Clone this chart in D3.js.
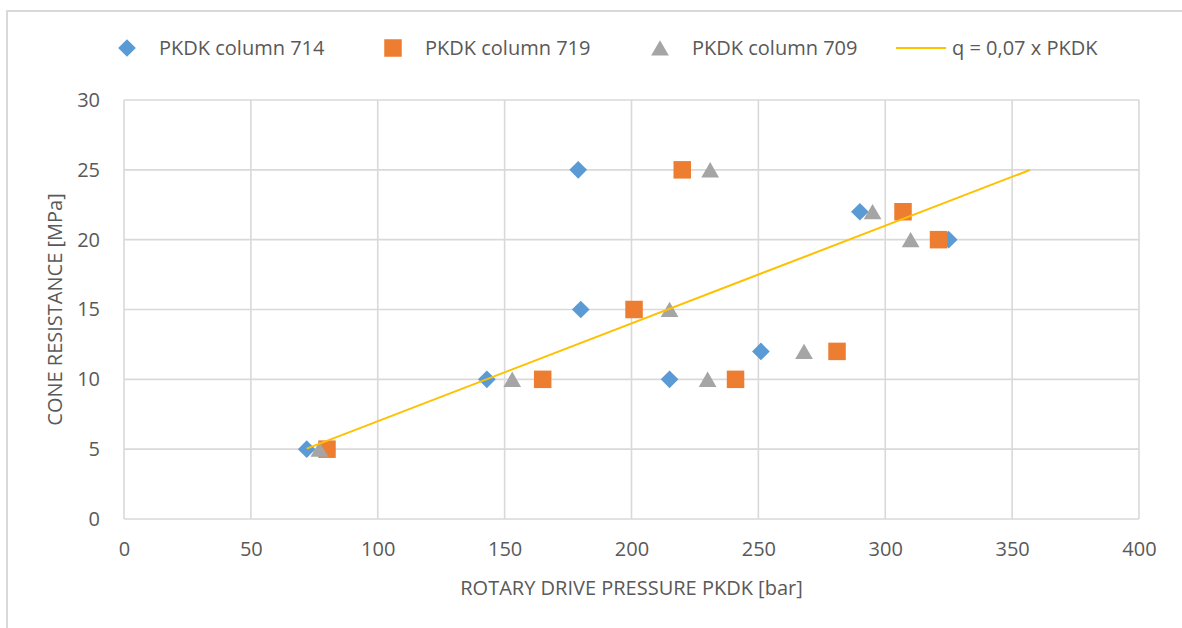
<!DOCTYPE html>
<html>
<head>
<meta charset="utf-8">
<script src="https://cdn.jsdelivr.net/npm/d3@7"></script>
<style>
    body { margin: 0; background: #fff; }
    text { font-family: "Open Sans", "Liberation Sans", sans-serif; fill: #595959; }
</style>
</head>
<body>
<div id="chart"></div>
<script>
    // series values
    const names = ["PKDK column 714", "PKDK column 719", "PKDK column 709"];
    const pressure714 = [72, 143, 179, 180, 215, 251, 290, 325];
    const resist714 = [5, 10, 25, 15, 10, 12, 22, 20];
    const pressure719 = [80, 165, 201, 220, 241, 281, 307, 321];
    const resist719 = [5, 10, 15, 25, 10, 12, 22, 20];
    const pressure709 = [77, 153, 215, 231, 230, 268, 295, 310];
    const resist709 = [5, 10, 15, 25, 10, 12, 22, 20];
    const lineLabel = "q = 0,07 x PKDK";
    const lineFactor = 0.07;
    const lineX = [72, 357];
    const xTicks = [0, 50, 100, 150, 200, 250, 300, 350, 400];
    const yTicks = [0, 5, 10, 15, 20, 25, 30];

    const width = 1182, height = 628;
    const margin = {left: 124, right: 43, top: 100, bottom: 109};
    const fontSize = "20px";

    const svg = d3.select("#chart").append("svg").attr("width", width).attr("height", height);

    // outer chart frame (cut off at right and bottom)
    svg.append("rect").attr("x", 7).attr("y", 11).attr("width", 1300).attr("height", 800)
        .attr("fill", "none").attr("stroke", "#d9d9d9").attr("stroke-width", 2);

    const x = d3.scaleLinear().domain([0, 400]).range([margin.left, width - margin.right]);
    const y = d3.scaleLinear().domain([0, 30]).range([height - margin.bottom, margin.top]);

    // grid
    svg.append("g").selectAll("line").data(xTicks).enter().append("line")
        .attr("x1", d => x(d)).attr("x2", d => x(d)).attr("y1", y(0)).attr("y2", y(30))
        .attr("stroke", "#d9d9d9").attr("stroke-width", 1.6);
    svg.append("g").selectAll("line").data(yTicks).enter().append("line")
        .attr("x1", x(0)).attr("x2", x(400)).attr("y1", d => y(d)).attr("y2", d => y(d))
        .attr("stroke", "#d9d9d9").attr("stroke-width", 1.6);

    const xAxis = svg.append("g").attr("transform", "translate(0," + (y(0) + 20) + ")")
        .call(d3.axisBottom(x).tickValues(xTicks).tickSize(0).tickFormat(d3.format("d")));
    const yAxis = svg.append("g").attr("transform", "translate(" + (x(0) - 21) + ",0)")
        .call(d3.axisLeft(y).tickValues(yTicks).tickSize(0).tickFormat(d3.format("d")));
    [xAxis, yAxis].forEach(a => {
        a.select(".domain").remove();
        a.selectAll("text").style("font-size", fontSize).style("fill", "#595959")
            .style("font-family", "'Open Sans', sans-serif");
    });

    svg.append("text").attr("x", (x(0) + x(400)) / 2).attr("y", 595).attr("text-anchor", "middle")
        .style("font-size", fontSize).text("ROTARY DRIVE PRESSURE PKDK [bar]");
    svg.append("text").attr("transform", "translate(62," + ((y(0) + y(30)) / 2) + ") rotate(-90)")
        .attr("text-anchor", "middle").style("font-size", fontSize).text("CONE RESISTANCE [MPa]");

    const series = [
        {name: names[0], xs: pressure714, ys: resist714, color: "#5b9bd5", shape: d3.symbolDiamond2, size: 200, dy: 0},
        {name: names[1], xs: pressure719, ys: resist719, color: "#ed7d31", shape: d3.symbolSquare2, size: 390, dy: 0},
        {name: names[2], xs: pressure709, ys: resist709, color: "#a5a5a5", shape: d3.symbolTriangle2, size: 225, dy: 2.5}
    ];

    series.forEach(s => {
        svg.append("g").selectAll("path").data(s.xs.map((v, i) => [v, s.ys[i]])).enter().append("path")
            .attr("transform", d => "translate(" + x(d[0]) + "," + (y(d[1]) + s.dy) + ")")
            .attr("d", d3.symbol().type(s.shape).size(s.size))
            .attr("fill", s.color);
    });

    svg.append("path").datum(lineX.map(v => [v, v * lineFactor]))
        .attr("d", d3.line().x(d => x(d[0])).y(d => y(d[1])))
        .attr("fill", "none").attr("stroke", "#ffc000").attr("stroke-width", 2);

    // legend
    const legendX = [127, 393, 660];
    const legendY = 48;
    series.forEach((s, i) => {
        svg.append("path").attr("transform", "translate(" + legendX[i] + "," + (legendY + s.dy) + ")")
            .attr("d", d3.symbol().type(s.shape).size(s.size)).attr("fill", s.color);
        svg.append("text").attr("x", legendX[i] + 32).attr("y", legendY + 7)
            .style("font-size", fontSize).text(s.name);
    });
    svg.append("line").attr("x1", 896).attr("x2", 946).attr("y1", legendY).attr("y2", legendY)
        .attr("stroke", "#ffc000").attr("stroke-width", 2);
    svg.append("text").attr("x", 952).attr("y", legendY + 7).style("font-size", fontSize).text(lineLabel);
</script>
</body>
</html>
